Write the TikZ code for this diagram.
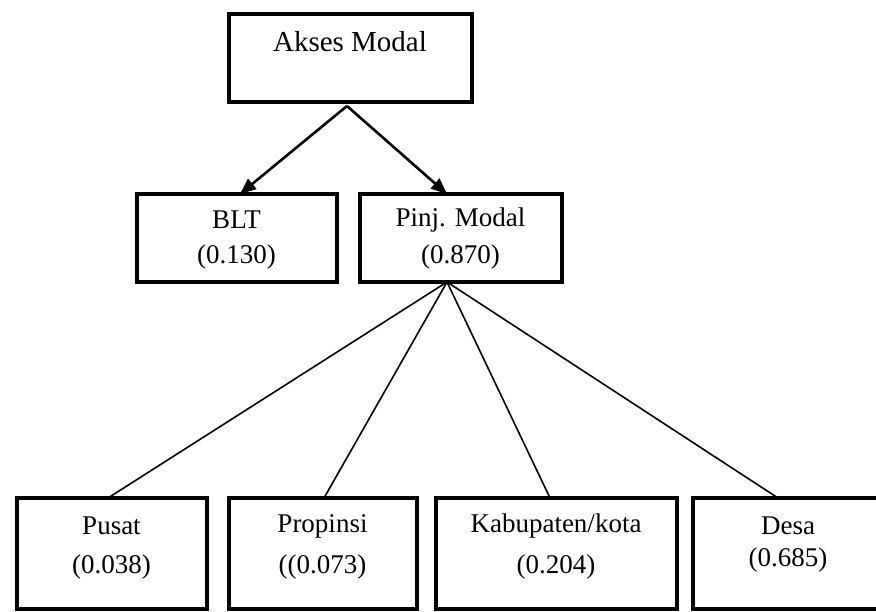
\documentclass[tikz,border=0pt]{standalone}
\usepackage{fontspec}
\setmainfont{Liberation Serif}
\usetikzlibrary{arrows.meta}
\begin{document}
\begin{tikzpicture}[x=1pt,y=-1pt,
  box/.style={draw=black, line width=4pt, rectangle, inner sep=0pt},
  lbl/.style={inner sep=0pt, font=\fontsize{27}{32}\selectfont},
  toplbl/.style={inner sep=0pt, font=\fontsize{29}{34}\selectfont},
  arr/.style={line width=2.6pt, -{Triangle[length=16pt,width=13pt]}},
  fan/.style={line width=1.6pt}]
\useasboundingbox (0,0) rectangle (876,612);
\clip (0,0) rectangle (876,612);
% boxes
\node[box, minimum width=243pt, minimum height=88pt] (top) at (350.5,58) {};
\node[box, minimum width=200pt, minimum height=88pt] (blt) at (236.5,238) {};
\node[box, minimum width=202pt, minimum height=88pt] (pinj) at (460.5,238) {};
\node[box, minimum width=190pt, minimum height=111pt] (pusat) at (111.5,553.5) {};
\node[box, minimum width=188pt, minimum height=111pt] (prop) at (322.5,553.5) {};
\node[box, minimum width=241pt, minimum height=111pt] (kab) at (556,553.5) {};
\node[box, minimum width=190pt, minimum height=111pt] (desa) at (788,553.5) {};
% labels
\node[toplbl] (ttop) at (350,42) {Akses Modal};
\node[lbl] (tblt1) at (236.5,220) {BLT};
\node[lbl] (tblt2) at (236.5,257) {(0.130)};
\node[lbl] (tpinj1) at (460.5,220) {Pinj. Modal};
\node[lbl] (tpinj2) at (460.5,257) {(0.870)};
\node[lbl] (tpus1) at (111.5,526) {Pusat};
\node[lbl] (tpus2) at (111.5,567) {(0.038)};
\node[lbl] (tpro1) at (322.5,526) {Propinsi};
\node[lbl] (tpro2) at (322.5,567) {((0.073)};
\node[lbl] (tkab1) at (556,526) {Kabupaten/kota};
\node[lbl] (tkab2) at (556,567) {(0.204)};
\node[lbl] (tdes1) at (788,526) {Desa};
\node[lbl] (tdes2) at (788,560) {(0.685)};
% connector points
\coordinate (topb) at ([xshift=-3.5pt,yshift=-2pt]top.south);
\coordinate (pjt) at ([xshift=-13.5pt,yshift=-2pt]pinj.north);
\coordinate (bltt) at ([xshift=3.5pt,yshift=-2pt]blt.north);
\coordinate (pjb) at ([xshift=-13.5pt,yshift=2pt]pinj.south);
% arrows
\draw[arr] (topb) -- (bltt);
\draw[arr] (topb) -- (pjt);
% fan lines
\draw[fan] (pjb) -- ([xshift=-3.5pt,yshift=-2pt]pusat.north);
\draw[fan] (pjb) -- ([xshift=1.5pt,yshift=-2pt]prop.north);
\draw[fan] (pjb) -- ([xshift=-6pt,yshift=-2pt]kab.north);
\draw[fan] (pjb) -- ([xshift=-10pt,yshift=-2pt]desa.north);
\end{tikzpicture}
\end{document}
